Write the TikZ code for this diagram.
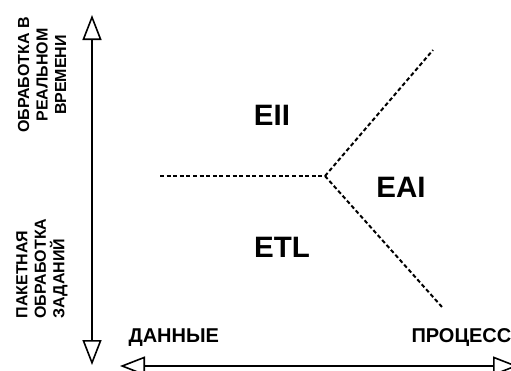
\documentclass[tikz,border=0pt]{standalone}
\usepackage{fontspec}
\setmainfont{Liberation Sans}
\usetikzlibrary{arrows.meta}

\begin{document}
\begin{tikzpicture}[
  x=1pt, y=-1pt,
  axis/.style={line width=1.6pt, {Triangle[open, length=25pt, width=19pt]}-{Triangle[open, length=25pt, width=19pt]}},
  bound/.style={line width=2pt, dash pattern=on 4pt off 2.6pt},
  zone/.style={font=\bfseries\fontsize{29.5}{32}\selectfont},
  axlab/.style={font=\bfseries\fontsize{20}{23}\selectfont, anchor=west},
  sidelab/.style={font=\bfseries\fontsize{16}{18.5}\selectfont, rotate=90}
]
\useasboundingbox (0,0) rectangle (511,370);
\clip (0,0) rectangle (511,370);

% axes
\coordinate (vtop) at (92,15);
\coordinate (vbot) at (92,365);
\coordinate (hleft) at (120,366);
\coordinate (hright) at (518,366);
\draw[axis] (vtop) -- (vbot);
\draw[axis] (hleft) -- (hright);

\node[sidelab, align=center] (rt) at (42,75) {ОБРАБОТКА В\\РЕАЛЬНОМ\\ВРЕМЕНИ};
\node[sidelab, align=left, anchor=west] (batch) at (42,322) {ПАКЕТНАЯ\\ОБРАБОТКА\\ЗАДАНИЙ};

\node[axlab] (data) at (125,338) {ДАННЫЕ};
\node[axlab] (proc) at (408,338) {ПРОЦЕСС};

% zone borders
\coordinate (mid) at (325,176);
\coordinate (west) at (160,176);
\coordinate (ne) at (433,50);
\coordinate (se) at (442,307);
\draw[bound] (west) -- (mid);
\draw[bound] (mid) -- (ne);
\draw[bound] (mid) -- (se);

\node[zone] (eii) at (272,115) {EII};
\node[zone] (eai) at (401,187) {EAI};
\node[zone] (etl) at (282,247) {ETL};

\end{tikzpicture}
\end{document}
